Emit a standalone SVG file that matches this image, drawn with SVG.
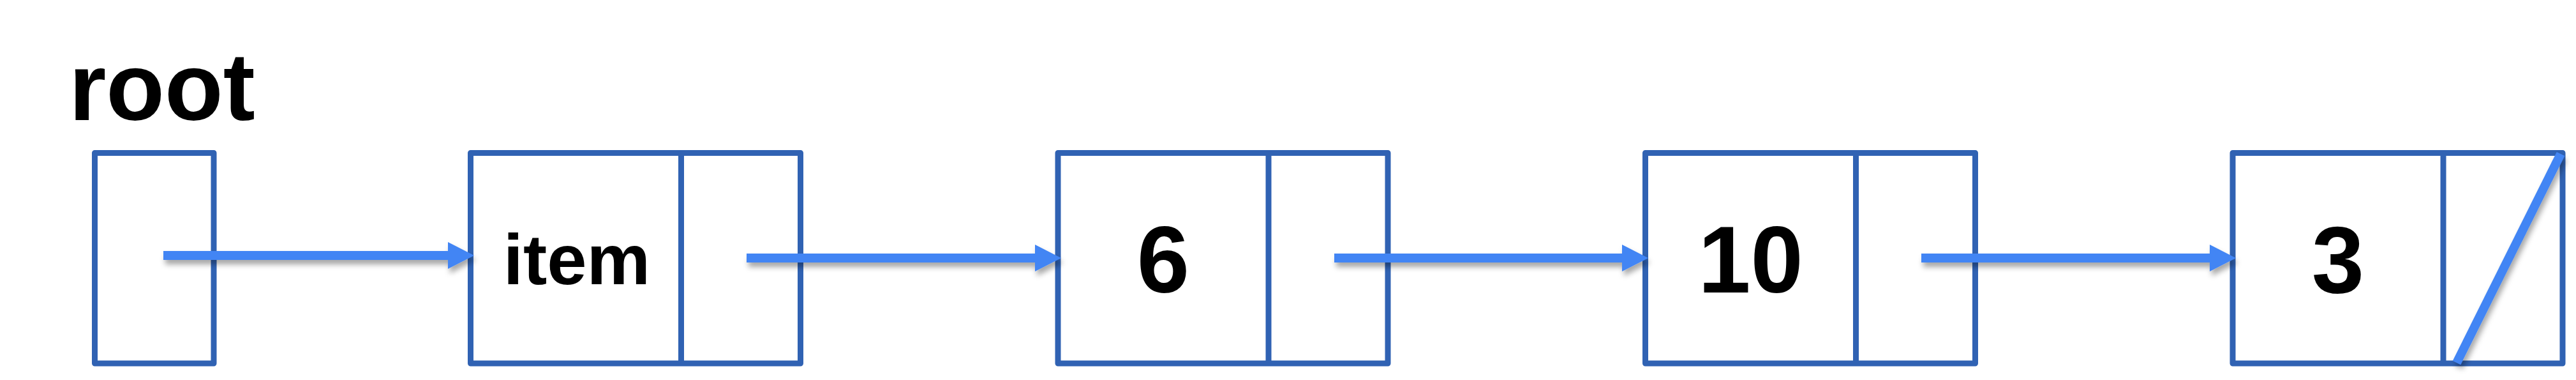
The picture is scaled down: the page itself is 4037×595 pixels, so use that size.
<svg xmlns="http://www.w3.org/2000/svg" width="4037" height="595" viewBox="0 0 4037 595">
  <style>
    .box { fill: #ffffff; stroke: #3062B3; stroke-width: 9; stroke-linejoin: round; }
    .div { stroke: #3062B3; stroke-width: 9; }
    .lbl { font-family: "Liberation Sans", Arial, Helvetica, sans-serif; font-weight: bold; fill: #000000; }
    .conn { stroke: #4285F4; stroke-width: 14; fill: none; }
  </style>
  <defs>
    <filter id="shadow" filterUnits="userSpaceOnUse" x="0" y="0" width="4037" height="595">
      <feDropShadow dx="3" dy="7" stdDeviation="4" flood-color="#000000" flood-opacity="0.35"/>
    </filter>
    <marker id="head" markerUnits="userSpaceOnUse" markerWidth="42" markerHeight="42" refX="1" refY="21" orient="auto">
      <path d="M0,0 L41,21 L0,42 Z" fill="#4285F4"/>
    </marker>
  </defs>
  <rect width="4037" height="595" fill="#ffffff"/>

  <text class="lbl" x="108" y="188" font-size="150">root</text>

  <g id="root">
    <rect class="box" x="148.5" y="239.5" width="186.5" height="329.5"/>
  </g>

  <g id="node-item">
    <rect class="box" x="737.5" y="239.5" width="517" height="329.5"/>
    <line class="div" x1="1067.5" y1="239.5" x2="1067.5" y2="569"/>
    <text class="lbl" x="904" y="445" font-size="112" text-anchor="middle">item</text>
  </g>

  <g id="node-6">
    <rect class="box" x="1658" y="239.5" width="517" height="329.5"/>
    <line class="div" x1="1988" y1="239.5" x2="1988" y2="569"/>
    <text class="lbl" x="1823" y="458" font-size="148" text-anchor="middle">6</text>
  </g>

  <g id="node-10">
    <rect class="box" x="2578.5" y="239.5" width="517" height="329.5"/>
    <line class="div" x1="2908.5" y1="239.5" x2="2908.5" y2="569"/>
    <text class="lbl" x="2743.5" y="458" font-size="148" text-anchor="middle">10</text>
  </g>

  <g id="node-3">
    <rect class="box" x="3499" y="239.5" width="517" height="329.5"/>
    <line class="div" x1="3829" y1="239.5" x2="3829" y2="569"/>
    <text class="lbl" x="3664" y="458" font-size="148" text-anchor="middle">3</text>
    <line class="conn" x1="4013" y1="241" x2="3850" y2="568" stroke-width="13" filter="url(#shadow)"/>
  </g>

  <g id="connectors" filter="url(#shadow)">
    <line class="conn" x1="256" y1="400" x2="703" y2="400" marker-end="url(#head)"/>
    <line class="conn" x1="1170" y1="404" x2="1623" y2="404" marker-end="url(#head)"/>
    <line class="conn" x1="2091" y1="404" x2="2543" y2="404" marker-end="url(#head)"/>
    <line class="conn" x1="3011" y1="404" x2="3464" y2="404" marker-end="url(#head)"/>
  </g>
</svg>
